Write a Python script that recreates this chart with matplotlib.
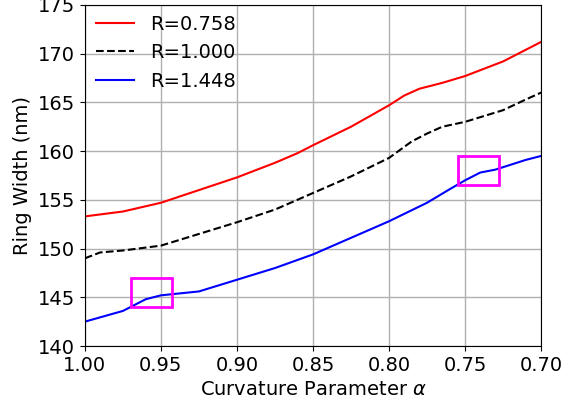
import matplotlib
matplotlib.use("Agg")
import matplotlib.pyplot as plt
from matplotlib.patches import Rectangle

# values
alpha_red = [1.00, 0.975, 0.95, 0.925, 0.90, 0.875, 0.86, 0.85, 0.825, 0.80,
             0.79, 0.78, 0.77, 0.765, 0.75, 0.725, 0.71, 0.70]
width_red = [153.3, 153.8, 154.7, 156.0, 157.3, 158.8, 159.8, 160.6, 162.5, 164.7,
             165.7, 166.4, 166.8, 167.0, 167.7, 169.2, 170.4, 171.2]

alpha_black = [1.00, 0.99, 0.975, 0.95, 0.925, 0.90, 0.875, 0.85, 0.825, 0.80,
               0.785, 0.775, 0.765, 0.75, 0.725, 0.71, 0.70]
width_black = [149.0, 149.6, 149.8, 150.3, 151.5, 152.7, 154.0, 155.7, 157.4, 159.3,
               161.0, 161.8, 162.5, 163.0, 164.2, 165.3, 166.0]

alpha_blue = [1.00, 0.975, 0.96, 0.95, 0.925, 0.90, 0.875, 0.85, 0.825, 0.80,
              0.775, 0.76, 0.75, 0.74, 0.73, 0.72, 0.71, 0.70]
width_blue = [142.5, 143.6, 144.8, 145.2, 145.6, 146.8, 148.0, 149.4, 151.1, 152.8,
              154.7, 156.1, 157.0, 157.8, 158.1, 158.6, 159.1, 159.5]

labels = ["R=0.758", "R=1.000", "R=1.448"]

# highlighted regions: (alpha_left, alpha_right, y_low, y_high)
box1 = (0.9695, 0.943, 144.0, 147.0)
box2 = (0.7545, 0.728, 156.5, 159.5)

fig = plt.figure(figsize=(5.66, 4.09), dpi=100)
ax = fig.add_axes([0.150, 0.154, 0.806, 0.834])

ax.plot(alpha_red, width_red, color="red", lw=1.5, label=labels[0])
ax.plot(alpha_black, width_black, color="black", lw=1.5, ls="--", label=labels[1])
ax.plot(alpha_blue, width_blue, color="blue", lw=1.5, label=labels[2])

for b in (box1, box2):
    ax.add_patch(Rectangle((b[1], b[2]), b[0] - b[1], b[3] - b[2],
                           fill=False, edgecolor="magenta", lw=2, zorder=5))

ax.set_xlim(1.00, 0.70)
ax.set_ylim(140, 175)
ax.set_xticks([1.00, 0.95, 0.90, 0.85, 0.80, 0.75, 0.70])
ax.set_yticks(range(140, 176, 5))
ax.tick_params(labelsize=14)
ax.grid(True, color="#b0b0b0", lw=1)
ax.set_xlabel(r"Curvature Parameter $\alpha$", fontsize=14)
ax.set_ylabel("Ring Width (nm)", fontsize=14)
ax.legend(loc="upper left", frameon=False, fontsize=14,
          bbox_to_anchor=(-0.015, 1.023))

fig.savefig("out.png", dpi=100)
